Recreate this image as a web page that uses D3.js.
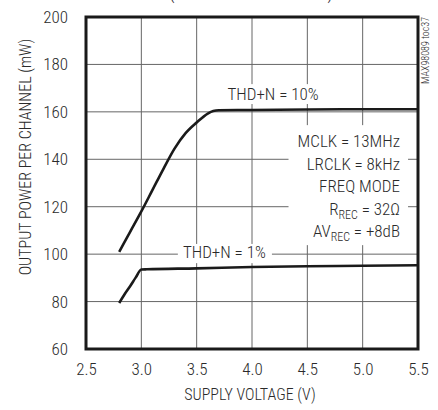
<!DOCTYPE html>
<html>
<head>
<meta charset="utf-8">
<script src="https://cdn.jsdelivr.net/npm/d3@7"></script>
<style>
  body { margin: 0; background: #fff; }
  svg text { font-family: "Roboto Condensed", "Liberation Sans Narrow", "DejaVu Sans Condensed", sans-serif; font-weight: 300; fill: #2a2a2a; }
</style>
</head>
<body>
<script>
//=DATA=//
const xTicks = [2.5, 3.0, 3.5, 4.0, 4.5, 5.0, 5.5];
const yTicks = [60, 80, 100, 120, 140, 160, 180, 200];

// THD+N = 10% curve
const volt10 = [2.8, 2.9, 3.0, 3.1, 3.2, 3.3, 3.4, 3.5, 3.6, 3.65, 3.7, 4.0, 4.5, 5.0, 5.5];
const power10 = [101, 109.5, 118, 127, 136, 144.5, 151, 155.5, 159.3, 160.4, 160.7, 160.8, 161, 161.1, 161.1];

// THD+N = 1% curve
const volt1 = [2.8, 2.85, 2.9, 2.95, 3.0, 3.05, 3.5, 4.0, 4.5, 5.0, 5.5];
const power1 = [79.4, 83.2, 86.6, 90.2, 93.5, 93.6, 94.0, 94.6, 94.9, 95.1, 95.3];

const notes = ["MCLK = 13MHz", "LRCLK = 8kHz", "FREQ MODE"];

//=SVG AREA=//
const width = 438;
const height = 410;
const m = { left: 86, right: 418, top: 17, bottom: 349 };

const svg = d3.select("body")
  .append("svg")
  .attr("width", width)
  .attr("height", height);

const x = d3.scaleLinear().domain([2.5, 5.5]).range([m.left, m.right]);
const y = d3.scaleLinear().domain([60, 200]).range([m.bottom, m.top]);

// title sits above the crop, only the bottom of its brackets shows
svg.append("text")
  .attr("x", 251)
  .attr("y", -1)
  .attr("text-anchor", "middle")
  .attr("font-size", 18)
  .text("(RECEIVER AMPLIFIER)");

//==GRID==
svg.append("g")
  .selectAll("line")
  .data(xTicks.slice(1, -1))
  .enter()
  .append("line")
  .attr("x1", d => x(d)).attr("x2", d => x(d))
  .attr("y1", m.top).attr("y2", m.bottom)
  .attr("stroke", "#666")
  .attr("stroke-width", 1);

svg.append("g")
  .selectAll("line")
  .data(yTicks.slice(1, -1))
  .enter()
  .append("line")
  .attr("x1", m.left).attr("x2", m.right)
  .attr("y1", d => y(d)).attr("y2", d => y(d))
  .attr("stroke", "#666")
  .attr("stroke-width", 1);

//==WHITE BOXES behind labels (they cut the grid)==
function blank(v0, p0, v1, p1) {
  svg.append("rect")
    .attr("x", x(v0)).attr("y", y(p0))
    .attr("width", x(v1) - x(v0)).attr("height", y(p1) - y(p0))
    .attr("fill", "#fff");
}
blank(3.75, 171.7, 4.63, 163.3);
blank(3.33, 104.3, 4.18, 96.2);
blank(4.33, 154.4, 5.41, 103.8);

//==CURVES==
const line = d3.line()
  .x(d => x(d[0]))
  .y(d => y(d[1]))
  .curve(d3.curveMonotoneX);

svg.append("path")
  .datum(d3.zip(volt10, power10))
  .attr("fill", "none")
  .attr("stroke", "#1a1a1a")
  .attr("stroke-width", 2.6)
  .attr("d", line);

svg.append("path")
  .datum(d3.zip(volt1, power1))
  .attr("fill", "none")
  .attr("stroke", "#1a1a1a")
  .attr("stroke-width", 2.6)
  .attr("d", line);

//==FRAME==
svg.append("rect")
  .attr("x", m.left).attr("y", m.top)
  .attr("width", m.right - m.left).attr("height", m.bottom - m.top)
  .attr("fill", "none")
  .attr("stroke", "#1a1a1a")
  .attr("stroke-width", 3);

//==AXES==
const xAxis = d3.axisBottom(x)
  .tickValues(xTicks)
  .tickSize(0)
  .tickPadding(14)
  .tickFormat(d3.format(".1f"));

const gx = svg.append("g")
  .attr("transform", `translate(0,${m.bottom})`)
  .call(xAxis)
  .attr("font-family", null)
  .attr("font-size", 17);
gx.select(".domain").remove();
gx.selectAll("text").attr("fill", "#2a2a2a");

const yAxis = d3.axisLeft(y)
  .tickValues(yTicks)
  .tickSize(0)
  .tickPadding(18);

const gy = svg.append("g")
  .attr("transform", `translate(${m.left},0)`)
  .call(yAxis)
  .attr("font-family", null)
  .attr("font-size", 17);
gy.select(".domain").remove();
gy.selectAll("text").attr("fill", "#2a2a2a");

//==AXIS TITLES==
svg.append("text")
  .attr("x", 250)
  .attr("y", 400)
  .attr("text-anchor", "middle")
  .attr("font-size", 16)
  .text("SUPPLY VOLTAGE (V)");

svg.append("text")
  .attr("transform", "translate(31,157) rotate(-90)")
  .attr("text-anchor", "middle")
  .attr("font-size", 16)
  .text("OUTPUT POWER PER CHANNEL (mW)");

svg.append("text")
  .attr("transform", `translate(${m.right + 11},${m.top}) rotate(-90)`)
  .attr("text-anchor", "end")
  .attr("font-size", 10)
  .text("MAX98089 toc37");

//==CURVE LABELS==
svg.append("text")
  .attr("x", x(4.19))
  .attr("y", y(165.0))
  .attr("text-anchor", "middle")
  .attr("font-size", 17)
  .text("THD+N = 10%");

svg.append("text")
  .attr("x", x(3.75))
  .attr("y", y(98.4))
  .attr("text-anchor", "middle")
  .attr("font-size", 17)
  .text("THD+N = 1%");

//==CONDITIONS BLOCK==
const noteX = 400;
const noteY = [147, 170, 192, 215, 237];

svg.append("g")
  .selectAll("text")
  .data(notes)
  .enter()
  .append("text")
  .attr("x", noteX)
  .attr("y", (d, i) => noteY[i])
  .attr("text-anchor", "end")
  .attr("font-size", 17)
  .text(d => d);

const r = svg.append("text")
  .attr("x", noteX).attr("y", noteY[3])
  .attr("text-anchor", "end")
  .attr("font-size", 17);
r.append("tspan").text("R");
r.append("tspan").attr("font-size", 12).attr("dy", 4).text("REC");
r.append("tspan").attr("dy", -4).text(" = 32\u03A9");

const av = svg.append("text")
  .attr("x", noteX).attr("y", noteY[4])
  .attr("text-anchor", "end")
  .attr("font-size", 17);
av.append("tspan").text("AV");
av.append("tspan").attr("font-size", 12).attr("dy", 4).text("REC");
av.append("tspan").attr("dy", -4).text(" = +8dB");
</script>
</body>
</html>
